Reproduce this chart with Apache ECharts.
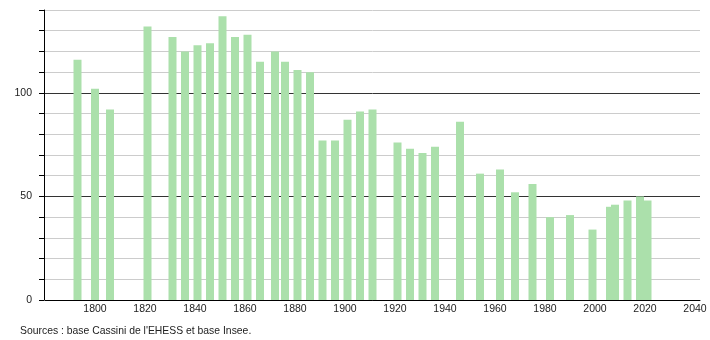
<!DOCTYPE html>
<html>
<head>
<meta charset="utf-8">
<script src="https://cdn.jsdelivr.net/npm/echarts@6/dist/echarts.min.js"></script>
<style>
html,body{margin:0;padding:0;background:#fff;}
#chart{width:710px;height:340px;}
</style>
</head>
<body>
<div id="chart"></div>
<script>
const years = [1793,1800,1806,1821,1831,1836,1841,1846,1851,1856,1861,1866,1872,1876,1881,1886,1891,1896,1901,1906,1911,1921,1926,1931,1936,1946,1954,1962,1968,1975,1982,1990,1999,2006,2008,2013,2018,2021];
const population = [116,102,92,132,127,120,123,124,137,127,128,115,120,115,111,110,77,77,87,91,92,76,73,71,74,86,61,63,52,56,40,41,34,45,46,48,50,48];
const yLabels = [0,50,100];
const sourceText = "Sources : base Cassini de l'EHESS et base Insee.";

const chart = echarts.init(document.getElementById('chart'), null, {renderer:'canvas'});
const font = 'Liberation Sans, Arial, sans-serif';
chart.setOption({
  animation:false,
  backgroundColor:'#ffffff',
  grid:{left:45, right:10, top:10, bottom:40, containLabel:false},
  xAxis:{
    type:'value', min:1780, max:2042, interval:20,
    axisLine:{show:true, onZero:false, lineStyle:{color:'#000', width:1}},
    axisTick:{show:false},
    splitLine:{show:false},
    axisLabel:{margin:4, fontSize:10.5, fontFamily:font, color:'#222',
      formatter:v => (v % 20 === 0 && v >= 1800) ? String(v) : ''}
  },
  yAxis:{
    type:'value', min:0, max:140, interval:10, offset:1,
    axisLine:{show:true, lineStyle:{color:'#000', width:1}},
    axisTick:{show:true, length:5, lineStyle:{color:'#000'}},
    axisLabel:{margin:12, fontSize:10.5, fontFamily:font, color:'#222',
      formatter:v => yLabels.includes(v) ? String(v) : ''},
    splitLine:{show:true, lineStyle:{color:['#333333','#cccccc','#cccccc','#cccccc','#cccccc'], width:1}}
  },
  graphic:[{
    type:'text', left:20, top:326,
    style:{text:sourceText, fontSize:10.4, fontFamily:font, fill:'#222'}
  }],
  series:[{
    type:'bar', barWidth:8,
    itemStyle:{color:'#abe0ab'},
    data:years.map((y,i)=>[y, population[i]])
  }]
});
</script>
</body>
</html>
